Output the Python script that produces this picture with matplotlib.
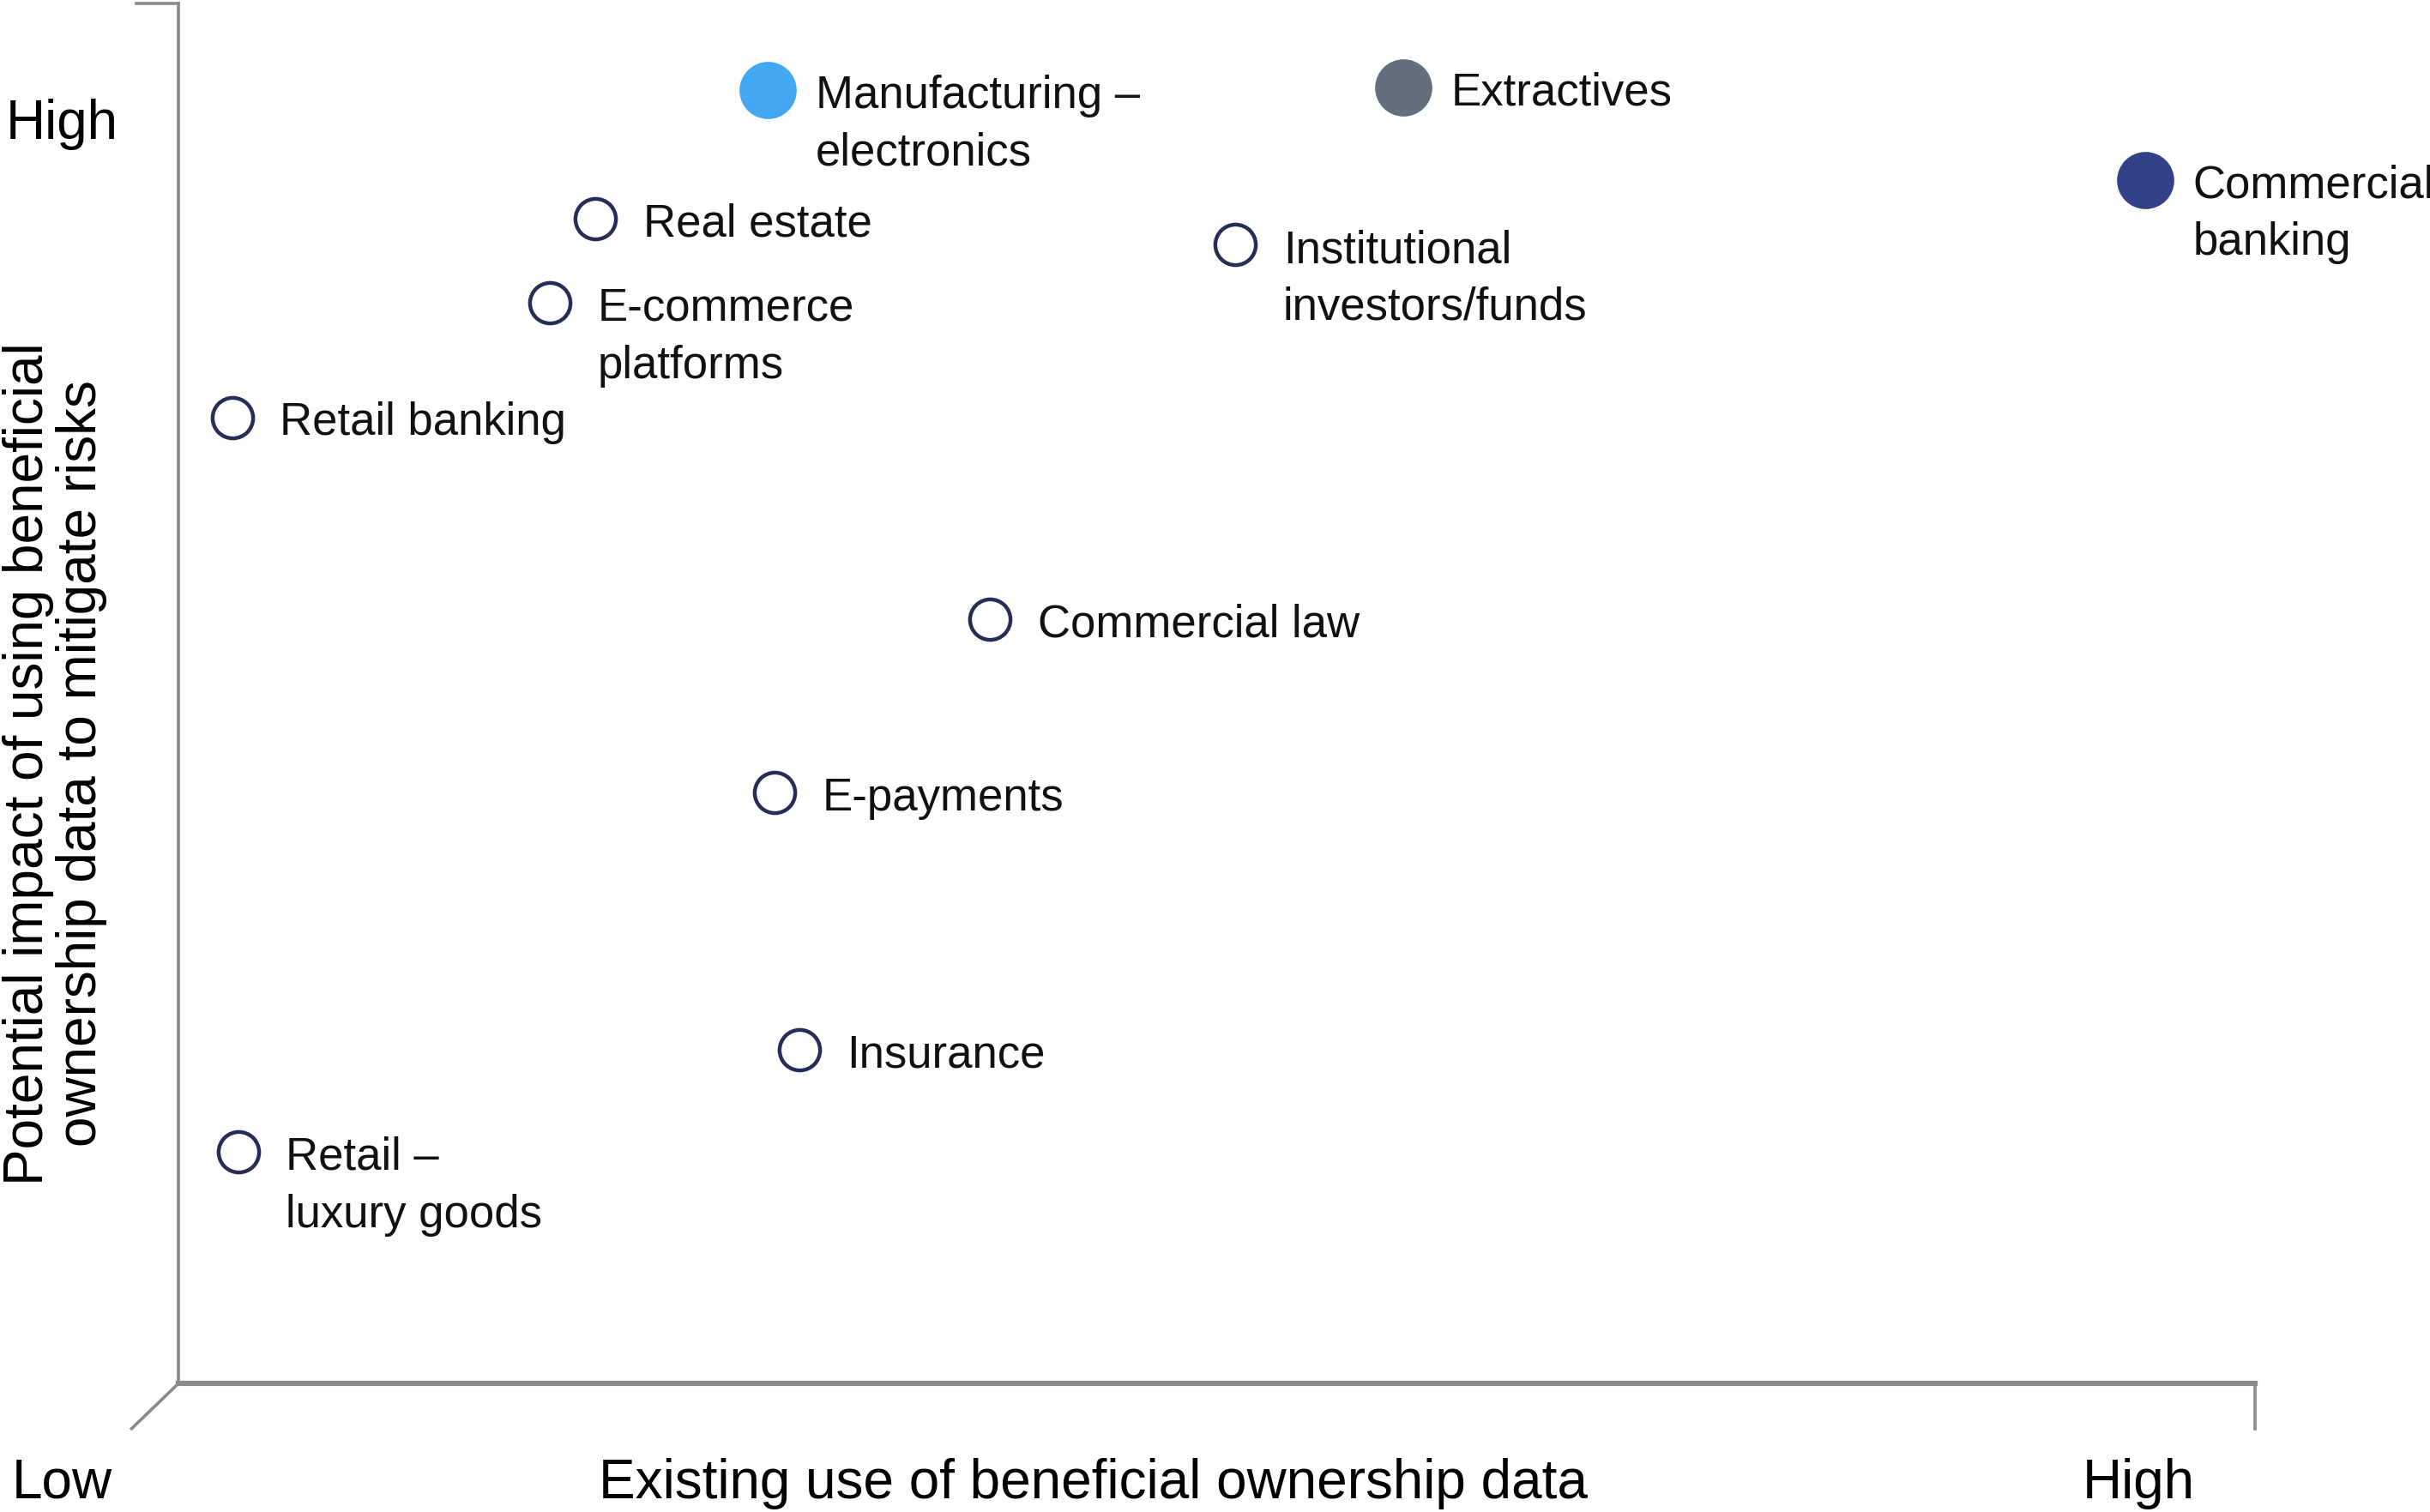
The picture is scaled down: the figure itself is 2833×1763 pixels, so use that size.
import matplotlib
matplotlib.use("Agg")
import matplotlib.pyplot as plt
from matplotlib.lines import Line2D

plt.rcParams['font.family'] = ['Liberation Sans', 'DejaVu Sans']

# Data (0-100 scale on both axes)
labels = ["Manufacturing –\nelectronics", "Extractives", "Commercial\nbanking",
          "Real estate", "Institutional\ninvestors/funds", "E-commerce\nplatforms",
          "Retail banking", "Commercial law", "E-payments", "Insurance",
          "Retail –\nluxury goods"]
x_use = [28.4, 59.0, 94.7, 20.1, 50.9, 17.9, 2.6, 39.1, 28.7, 29.9, 2.9]
y_impact = [93.7, 93.9, 87.2, 84.4, 82.5, 78.3, 70.0, 55.4, 42.8, 24.2, 16.8]
fill_colors = ["#42A8F4", "#646F7E", "#33418B", None, None, None, None, None, None, None, None]

fig = plt.figure(figsize=(2833/200, 1763/200), dpi=200)
ax = fig.add_axes([0.0733, 0.0848, 0.8547, 0.9132])
ax.set_xlim(0, 100)
ax.set_ylim(0, 100)
ax.set_xticks([])
ax.set_yticks([])
for s in ["top", "right"]:
    ax.spines[s].set_visible(False)
ax.spines["left"].set_color("#8a8a8a")
ax.spines["left"].set_linewidth(1.3)
ax.spines["bottom"].set_color("#8a8a8a")
ax.spines["bottom"].set_linewidth(2.2)

axis_col = "#8a8a8a"
ax.add_line(Line2D([-0.020, 0], [1.0, 1.0], transform=ax.transAxes, color=axis_col, lw=1.3, clip_on=False))
ax.add_line(Line2D([0, -0.0224], [0, -0.0325], transform=ax.transAxes, color=axis_col, lw=1.3, clip_on=False))
ax.add_line(Line2D([1, 1], [0, -0.0325], transform=ax.transAxes, color=axis_col, lw=1.3, clip_on=False))

for lab, xv, yv, fc in zip(labels, x_use, y_impact, fill_colors):
    if fc is None:
        ax.plot(xv, yv, marker="o", ms=17, mfc="white", mec="#262E57", mew=1.6,
                linestyle="none", clip_on=False, zorder=3)
    else:
        ax.plot(xv, yv, marker="o", ms=23, mfc=fc, mec=fc, linestyle="none",
                clip_on=False, zorder=3)
    ax.annotate(lab, (xv, yv), xytext=(20, 6.5), textcoords="offset points",
                ha="left", va="top", fontsize=19, linespacing=1.43, color="#111111",
                annotation_clip=False)

fig.text(0.0255, 0.918, "High", ha="center", va="center", fontsize=23)
fig.text(0.0255, 0.019, "Low", ha="center", va="center", fontsize=23)
fig.text(0.450, 0.019, "Existing use of beneficial ownership data", ha="center", va="center", fontsize=23)
fig.text(0.880, 0.019, "High", ha="center", va="center", fontsize=23)
fig.text(0.0225, 0.495, "Potential impact of using beneficial\nownership data to mitigate risks",
         ha="center", va="center", rotation=90, fontsize=23, linespacing=1.05)

fig.savefig("out.png", dpi=200)
